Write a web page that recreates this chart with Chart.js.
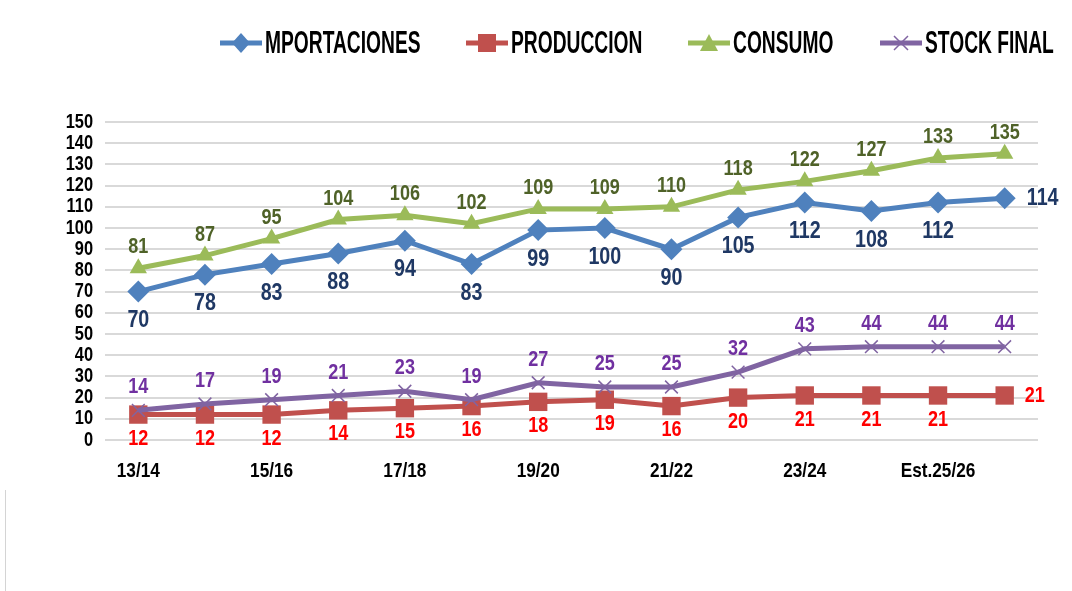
<!DOCTYPE html>
<html>
<head>
<meta charset="utf-8">
<script src="https://cdn.jsdelivr.net/npm/chart.js@4/dist/chart.umd.min.js"></script>
<style>
  html, body { margin: 0; padding: 0; background: #fff; }
  #wrap { position: relative; width: 1072px; height: 591px; overflow: hidden; }
  #grafico { position: absolute; left: 0; top: 0; }
  .item { position: absolute; top: 31px; height: 24px; }
  .item svg { position: absolute; left: 0; top: 0; }
  .item span { position: absolute; left: 45px; top: -8px; white-space: nowrap; transform: scaleX(0.62); transform-origin: 0 50%;
    font-family: 'Liberation Sans', Arial, sans-serif; font-weight: bold; font-size: 31px; line-height: 40px; color: #000; }
  #borda { position: absolute; left: 5px; top: 490px; width: 1px; height: 101px; background: #d4d4d4; }
</style>
</head>
<body>
<div id="wrap">
  <canvas id="grafico" width="1072" height="591"></canvas>
  <div id="legenda"></div>
  <div id="borda"></div>
</div>
<script>
// dados
const campanhas = ['13/14', '14/15', '15/16', '16/17', '17/18', '18/19', '19/20', '20/21', '21/22', '22/23', '23/24', '24/25', 'Est.25/26', '26/27'];
const importaciones = [70, 78, 83, 88, 94, 83, 99, 100, 90, 105, 112, 108, 112, 114];
const produccion = [12, 12, 12, 14, 15, 16, 18, 19, 16, 20, 21, 21, 21, 21];
const consumo = [81, 87, 95, 104, 106, 102, 109, 109, 110, 118, 122, 127, 133, 135];
const stockFinal = [14, 17, 19, 21, 23, 19, 27, 25, 25, 32, 43, 44, 44, 44];

const FONTE = "'Liberation Sans', Arial, sans-serif";
const ESTREITO = 0.82; // simula fonte condensada

const series = [
  { label: 'MPORTACIONES', data: importaciones, cor: '#4F81BD', ponto: 'rectRot', raio: 11, ordem: 0, xLeg: 220,
    etiqueta: { color: '#1F3864', dy: 29, dxUltima: 38, tam: 24 } },
  { label: 'PRODUCCION', data: produccion, cor: '#C0504D', ponto: 'rect', raio: 13, ordem: 3, xLeg: 466,
    etiqueta: { color: '#FF0000', dy: 24, dxUltima: 30, tam: 22 } },
  { label: 'CONSUMO', data: consumo, cor: '#9BBB59', ponto: 'triangle', raio: 10, ordem: 1, xLeg: 688,
    etiqueta: { color: '#4F6228', dy: -21, tam: 22 } },
  { label: 'STOCK FINAL', data: stockFinal, cor: '#8064A2', ponto: 'crossRot', raio: 9, ordem: 2, xLeg: 880,
    etiqueta: { color: '#7030A0', dy: -23, tam: 22 } }
];

function texto(ctx, t, x, y, tam, cor, alinha) {
  ctx.save();
  ctx.font = `bold ${tam}px ${FONTE}`;
  ctx.fillStyle = cor;
  ctx.textAlign = alinha || 'center';
  ctx.textBaseline = 'middle';
  ctx.translate(x, y);
  ctx.scale(ESTREITO, 1);
  ctx.fillText(t, 0, 0);
  ctx.restore();
}

// rotulos dos eixos e etiquetas de valores
const rotulosPlugin = {
  id: 'rotulos',
  afterDraw(chart) {
    const ctx = chart.ctx;
    const sx = chart.scales.x, sy = chart.scales.y;
    sy.ticks.forEach((t, i) => {
      texto(ctx, String(t.value), chart.chartArea.left - 12, sy.getPixelForTick(i), 20, '#000', 'right');
    });
    sx.ticks.forEach((t, i) => {
      if (i % 2 !== 0) return;
      texto(ctx, campanhas[i], sx.getPixelForTick(i), chart.chartArea.bottom + 31, 21, '#000');
    });
    chart.data.datasets.forEach((ds, i) => {
      const meta = chart.getDatasetMeta(i);
      const cfg = ds.etiqueta;
      meta.data.forEach((pt, j) => {
        let x = pt.x, y = pt.y + cfg.dy;
        if (cfg.dxUltima && j === meta.data.length - 1) {
          x = pt.x + cfg.dxUltima;
          y = pt.y;
        }
        texto(ctx, String(ds.data[j]), x, y, cfg.tam, cfg.color);
      });
    });
  }
};

// legenda em HTML com linha + marcador
function iconeSvg(s) {
  const c = s.cor;
  let m = '';
  if (s.ponto === 'rectRot') m = `<polygon points="21,2 30,12 21,22 12,12" fill="${c}"/>`;
  else if (s.ponto === 'rect') m = `<rect x="12" y="3" width="18" height="18" fill="${c}"/>`;
  else if (s.ponto === 'triangle') m = `<polygon points="21,3 30,20 12,20" fill="${c}"/>`;
  else m = `<path d="M14,5 L28,19 M28,5 L14,19" stroke="${c}" stroke-width="1.5"/>`;
  return `<svg width="42" height="24"><line x1="0" y1="12" x2="42" y2="12" stroke="${c}" stroke-width="5"/>${m}</svg>`;
}
document.getElementById('legenda').innerHTML = series.map(s =>
  `<div class="item" style="left:${s.xLeg}px">${iconeSvg(s)}<span>${s.label}</span></div>`).join('');

const ctx = document.getElementById('grafico').getContext('2d');
new Chart(ctx, {
  type: 'line',
  data: {
    labels: campanhas,
    datasets: series.map(s => ({
      label: s.label,
      data: s.data,
      order: s.ordem,
      borderColor: s.cor,
      backgroundColor: s.cor,
      borderWidth: 5,
      pointStyle: s.ponto,
      pointRadius: s.raio,
      pointBorderWidth: s.ponto === 'crossRot' ? 1.5 : 0,
      pointBorderColor: s.cor,
      pointBackgroundColor: s.cor,
      tension: 0,
      etiqueta: s.etiqueta
    }))
  },
  options: {
    responsive: false,
    animation: false,
    layout: { padding: { top: 122, right: 34, bottom: 100, left: 0 } },
    plugins: {
      legend: { display: false },
      tooltip: { enabled: false }
    },
    scales: {
      x: {
        offset: true,
        grid: { display: false, drawTicks: false },
        border: { display: false },
        afterFit: s => { s.height = 51; },
        ticks: { display: false, autoSkip: false }
      },
      y: {
        min: 0,
        max: 150,
        afterFit: s => { s.width = 105; },
        grid: { color: '#d9d9d9', lineWidth: 2, drawTicks: false },
        border: { display: false },
        ticks: { display: false, autoSkip: false, stepSize: 10 }
      }
    }
  },
  plugins: [rotulosPlugin]
});
</script>
</body>
</html>
